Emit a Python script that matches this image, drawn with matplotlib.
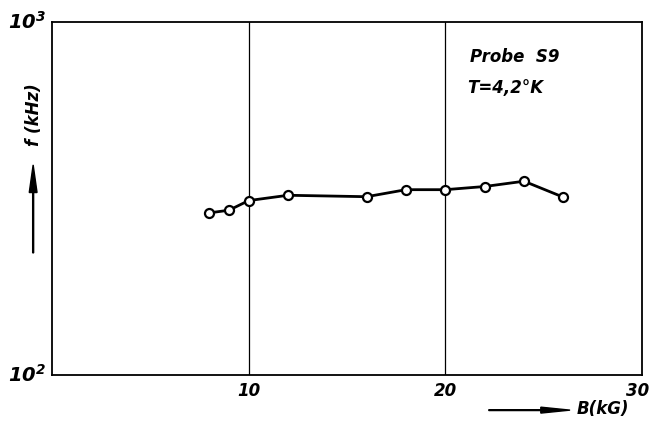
import numpy as np
import matplotlib
matplotlib.use("Agg")
import matplotlib.pyplot as plt

# data
B = [8, 9, 10, 12, 16, 18, 20, 22, 24, 26]
f = [288, 293, 312, 323, 320, 335, 335, 342, 354, 319]
xticks = [10, 20, 30]
xticklabels = ["10", "20", "30"]

plt.rcParams['font.family'] = ['DejaVu Sans']
fnt = dict(style='italic', fontsize=12, fontweight='bold', color='black')

fig = plt.figure(figsize=(6.5, 4.25), dpi=100)
ax = fig.add_axes([0.08, 0.1176, 0.9077, 0.8306])

ax.set_yscale('log')
ax.set_xlim(0, 30)
ax.set_ylim(100, 1000)

for xv in [10, 20]:
    ax.axvline(xv, color='black', lw=0.9, zorder=1)

ax.plot(B, f, color='black', lw=2, marker='o', ms=6.5, mfc='white',
        mec='black', mew=1.6, zorder=3)

for s in ax.spines.values():
    s.set_linewidth(1.3)
ax.set_xticks([])
ax.set_yticks([])
ax.minorticks_off()

# tick labels written by hand, as in the original drawing
for xv, lab in zip(xticks, xticklabels):
    ha = 'right' if xv == 30 else 'center'
    xx = 30.35 if xv == 30 else xv
    ax.text(xx, -0.02, lab, transform=ax.get_xaxis_transform(),
            ha=ha, va='top', clip_on=False, **fnt)
ax.text(-0.01, 1000, r'$\mathbfit{10^3}$', transform=ax.get_yaxis_transform(),
        ha='right', va='center', fontsize=14)
ax.text(-0.01, 100, r'$\mathbfit{10^2}$', transform=ax.get_yaxis_transform(),
        ha='right', va='center', fontsize=14)

# axis labels with arrows
fig.text(0.052, 0.73, 'f (kHz)', rotation=90, ha='center', va='center', **fnt)
fig.patches.append(matplotlib.patches.FancyArrow(
    0.051, 0.405, 0, 0.207, width=0.0015, head_width=0.012, head_length=0.065,
    length_includes_head=True, color='black', transform=fig.transFigure))
fig.text(0.968, 0.038, 'B(kG)', ha='right', va='center', **fnt)
fig.patches.append(matplotlib.patches.FancyArrow(
    0.752, 0.035, 0.125, 0, width=0.002, head_width=0.014, head_length=0.045,
    length_includes_head=True, color='black', transform=fig.transFigure))

ax.text(0.708, 0.9, 'Probe  S9', transform=ax.transAxes, ha='left', va='center', **fnt)
ax.text(0.703, 0.813, 'T=4,2°K', transform=ax.transAxes, ha='left', va='center', **fnt)

fig.savefig('out.png', dpi=100)
